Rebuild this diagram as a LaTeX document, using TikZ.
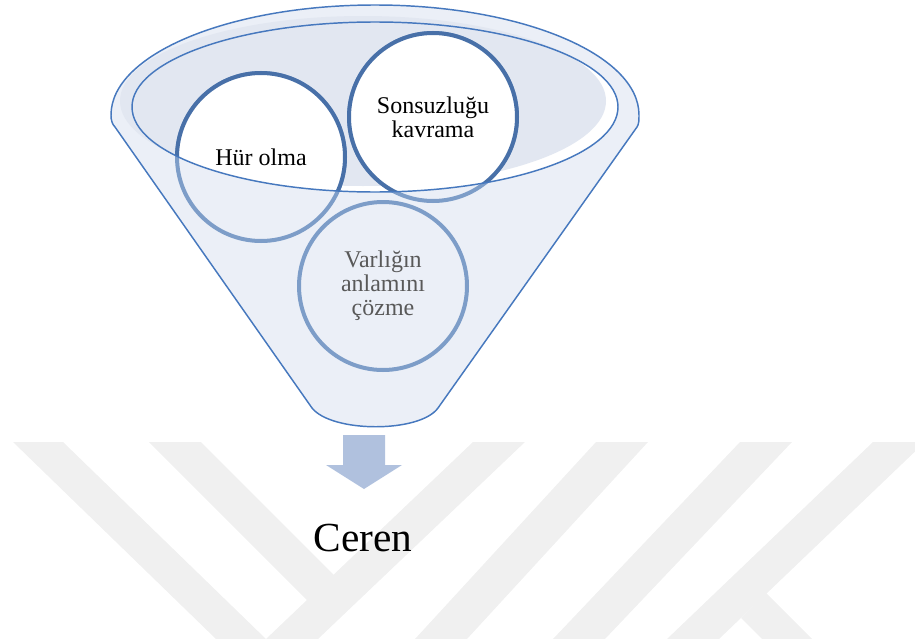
\documentclass[tikz,border=0pt]{standalone}
\usepackage{fontspec}
\setmainfont{Liberation Serif}
\definecolor{wm}{RGB}{240,240,240}
\definecolor{fline}{RGB}{70,120,190}
\definecolor{ffill}{RGB}{235,239,247}
\definecolor{fdark}{RGB}{226,231,241}
\definecolor{cdark}{RGB}{72,112,168}
\definecolor{clight}{RGB}{125,157,200}
\definecolor{tgray}{RGB}{89,89,89}
\definecolor{arr}{RGB}{176,193,222}
\begin{document}
\begin{tikzpicture}[x=0.75pt,y=-0.75pt,
  ctext/.style={align=center,font=\fontsize{18}{18}\selectfont,inner sep=0pt},
  ringdark/.style={draw=cdark,line width=3pt},
  ringlight/.style={draw=clight,line width=3pt},
  wmark/.style={fill=wm,draw=none},
  outline/.style={draw=fline,line width=1.1pt},
]
\useasboundingbox (0,0) rectangle (915,639);
\def\funnelpath{(111,115) arc[start angle=180,end angle=360,x radius=264,y radius=110]
  .. controls (639,120) and (639,124) .. (637,127) -- (438,408)
  .. controls (420,433) and (332,433) .. (312,408) -- (115,127)
  .. controls (112,124) and (111,120) .. (111,115) -- cycle}
\def\innerell{(375,107) ellipse[x radius=243,y radius=85]}
% watermark
\fill[wmark] (13,442) -- (63,442) -- (266,639) -- (216,639) -- cycle;
\fill[wmark] (149,442) -- (201,442) -- (337,578) -- (311,604) -- cycle;
\fill[wmark] (473,442) -- (525,442) -- (318,639) -- (266,639) -- cycle;
\fill[wmark] (596,442) -- (648,442) -- (467,639) -- (415,639) -- cycle;
\fill[wmark] (740,442) -- (792,442) -- (605,639) -- (553,639) -- cycle;
\fill[wmark] (873,442) -- (925,442) -- (719,639) -- (667,639) -- cycle;
\fill[wmark] (766,593) -- (812,639) -- (762,639) -- (741,618) -- cycle;
% funnel body
\fill[ffill] \funnelpath;
\fill[white] \innerell;
\fill[fdark] (363,101) ellipse[x radius=243,y radius=85];
% circle centres
\coordinate (chur) at (261,157);
\coordinate (cson) at (433,117);
\coordinate (cvar) at (383,286);
% light rings (parts below the rim)
\draw[ringlight] (cvar) circle[radius=84];
\draw[ringlight] (chur) circle[radius=84];
\draw[ringlight] (cson) circle[radius=84];
% parts inside the rim
\begin{scope}
  \clip \innerell;
  \fill[white] (chur) circle[radius=84];
  \fill[white] (cson) circle[radius=84];
  \draw[ringdark] (chur) circle[radius=84];
  \draw[ringdark] (cson) circle[radius=84];
\end{scope}
\draw[outline] \innerell;
\draw[outline] \funnelpath;
% texts
\node[ctext] (hur) at (chur) {Hür olma};
\node[ctext] (son) at (cson) {Sonsuzluğu\\kavrama};
\node[ctext,text=tgray] (var) at (cvar) {Varlığın\\anlamını\\çözme};
% arrow
\fill[arr] (343,435) -- (385,435) -- (385,465) -- (402,465) -- (364,489) -- (326,465) -- (343,465) -- cycle;
\node[font=\fontsize{31}{31}\selectfont,inner sep=0pt,anchor=base] (ceren) at (363,551) {Ceren};
\end{tikzpicture}
\end{document}
